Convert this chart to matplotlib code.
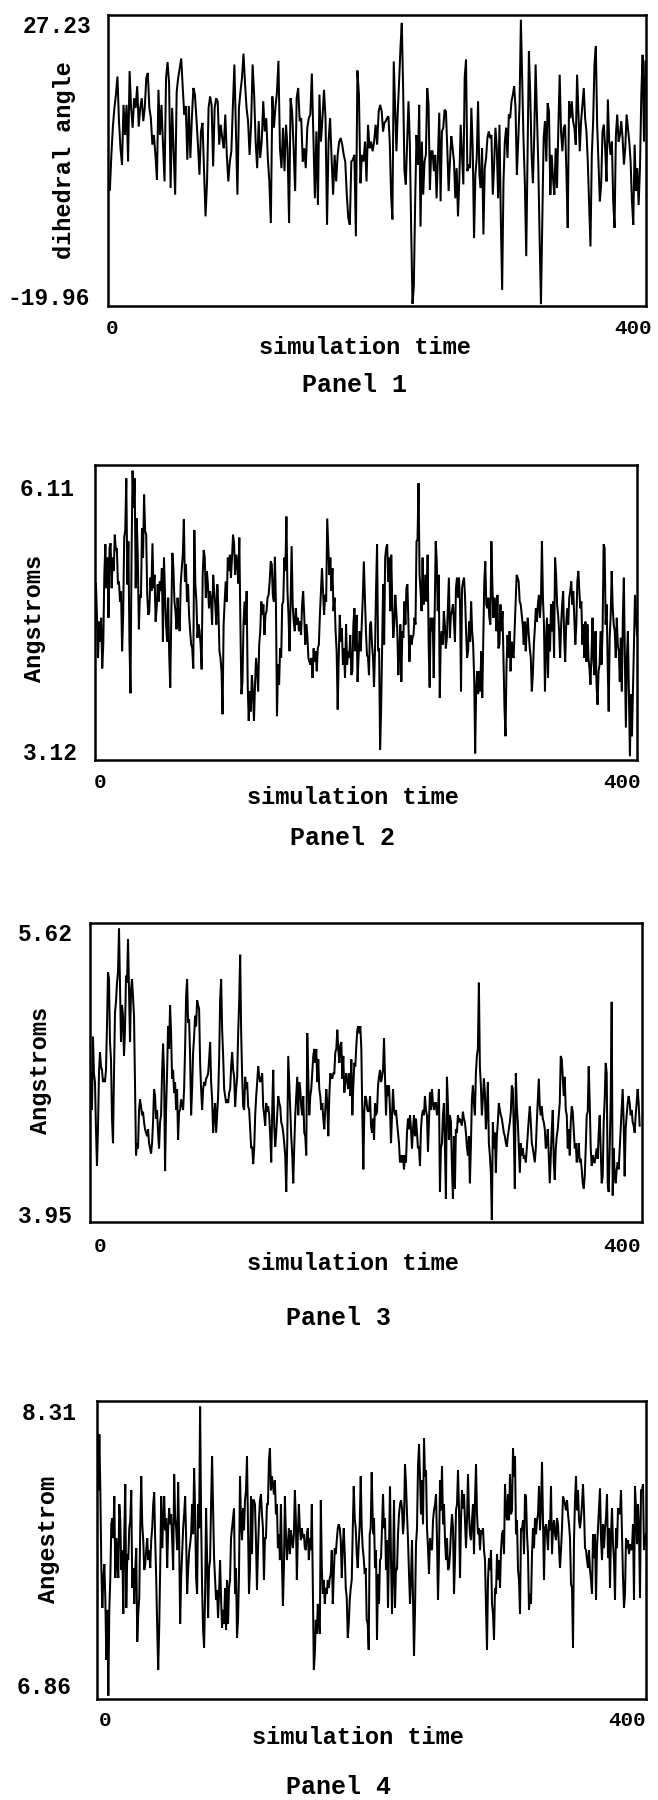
import numpy as np
import matplotlib
matplotlib.use("Agg")
import matplotlib.pyplot as plt

# ---------------- data ----------------
# Panel 1: dihedral angle
p1_first_span = (0.25, 203.5)
p1_first = [-0.4, -1.1, 4.8, 9.5, 12.6, 14.8, 17.8, 10.4, 5.9, 3.2, 13.1, 8.1, 13.1, 3.7, 18.7, 12.6, 9.3, 14.2, 12.6, 16.2,
            9.5, 12.6, 14.2, 10.4, 12.6, 17.6, 18.4, 12.6, 10.9, 6.5, 8.1, 4.8, 0.7, 15.6, 8.1, 13.1, 6.5, 0.4, 17.6, 20.2,
            16.7, -0.7, 12.6, 5.4, -1.8, 15.3, 17.6, 19.2, 20.8, 15.9, 11.5, 12.9, 4.0, 12.9, 4.3, 10.9, 15.9, 14.8, 10.9, 6.5,
            1.5, 8.7, 10.1, 2.6, -5.4, 0.4, 12.6, 14.5, 13.1, 2.9, 12.6, 14.2, 13.7, 6.5, 9.8, 7.6, 5.9, 11.5, 4.8, 0.4,
            3.7, 5.4, 12.9, 19.8, 9.3, -1.8, 12.6, 15.3, 17.6, 21.6, 16.7, 12.6, 10.4, 4.8, 9.8, 19.8, 14.8, 7.0, 2.6, 10.4,
            4.3, 7.0, 13.7, 8.7, 10.9, 4.3, 0.4, -6.5, 14.5, 9.3, 12.6, 15.1, 20.4, 5.9, 2.6, 9.3, 2.1, 9.8, 5.9, -6.5,
            14.2, 12.0, 5.9, -1.2, 14.2, 15.9, 10.4, 10.9, 3.7, 5.9, 2.6, 9.3, 10.9, 11.5, 18.3, 8.1, -2.4, 8.7, -3.5, 14.8,
            7.0, 10.9, 15.6, 10.9, -6.8, 7.0, 10.9, 4.3, -1.8, 4.8, 0.4, 4.8, 7.0, 7.6, 6.5, 4.8, 3.7, -1.8, -5.7, -6.8,
            3.7, 4.0, 4.8, -8.7, 18.8, 14.8, 0.1, 4.8, 3.7, 7.0, 0.4, 9.8, 5.9, 7.0, 5.4, 7.0, 9.8, 6.5, 12.0, 13.1, 12.0]
p1_second_span = (204.5, 399.5)
p1_second = [8.7, 10.1, 10.4, 10.9, 11.2, 7.0, -1.8, -5.9, 20.3, 13.1, 5.4, 12.0, 17.0, 22.5, 26.7, 15.9, 2.1, -0.1, 7.0, 13.7,
             7.0, -7.3, -19.9, -17.0, -2.9, 8.1, 3.2, 13.1, -7.1, 7.0, -1.8, 3.7, 4.8, 15.9, 13.1, -1.0, 5.4, 5.4, 2.1, 4.8,
             -2.4, 4.3, 11.8, -2.9, 8.7, 9.3, 12.3, 12.0, 5.9, -1.2, 3.7, 7.9, 5.9, 3.7, -2.4, 2.6, -5.4, 0.7, 9.8, 4.8,
             -0.1, 17.6, 20.6, 2.1, 3.2, 2.6, 12.6, 5.9, -9.0, 1.5, 4.3, 13.7, 1.5, -0.7, 5.9, -8.4, 2.6, 4.3, 7.6, 8.7,
             7.6, 8.1, -1.8, 3.2, 9.3, 5.9, -2.4, 9.8, -5.7, -17.6, 0.4, 7.0, 9.3, 4.3, 11.5, 10.9, 13.7, 14.8, 16.2, 12.6,
             1.5, 7.0, 13.1, 27.23, 17.0, 7.0, -0.1, -12.0, 5.4, 22.0, 14.8, 4.8, 0.1, 8.1, 19.8, 11.5, 3.2, -9.0, -19.96, -6.2,
             7.6, 10.4, 3.7, 13.4, 12.0, -1.8, 4.8, 0.9, -1.8, 5.9, -0.7, 9.3, 18.1, 8.7, 5.4, 9.3, 9.8, 2.1, -7.3, 13.7,
             10.9, 13.7, 10.4, 9.3, 6.5, 18.1, 11.5, 5.4, 10.4, 13.1, 15.9, 10.9, 8.7, 3.7, -3.5, -10.4, 4.8, 10.4, 19.8, 22.8,
             9.8, 3.7, -2.9, -0.1, 8.7, 9.8, 5.9, 0.4, 14.0, 7.0, 4.8, 7.0, -2.9, -7.3, 8.1, 11.5, 7.0, 8.1, 10.4, 7.6,
             3.2, 5.9, 11.5, 9.3, 7.0, 3.7, -2.9, -6.8, 6.5, -1.2, 2.6, -3.5, 2.6, 14.8, 21.4, 7.0, 20.3]

# Panel 2: Angstroms
p2_first_span = (0.7, 201.5)
p2_first = [4.93, 4.57, 4.15, 4.53, 4.32, 4.57, 4.04, 4.29, 5.02, 5.34, 4.88, 5.20, 4.57, 5.30, 5.35, 4.88, 5.20, 5.06, 5.44, 5.27,
            5.30, 4.92, 4.95, 4.74, 4.85, 4.22, 4.60, 5.41, 5.49, 6.03, 4.92, 5.37, 4.32, 3.78, 5.20, 6.11, 5.72, 6.03, 4.88, 5.61,
            5.20, 4.45, 4.81, 4.78, 5.51, 5.20, 5.86, 5.48, 5.44, 4.81, 4.60, 4.64, 4.99, 4.85, 5.35, 4.88, 5.02, 4.53, 4.67, 4.92,
            4.74, 4.95, 4.85, 5.09, 4.32, 5.20, 4.81, 4.50, 4.32, 4.78, 4.18, 3.84, 4.60, 5.25, 5.09, 4.74, 4.64, 4.45, 4.78, 4.57,
            4.43, 4.92, 5.09, 5.23, 5.60, 4.95, 5.13, 4.74, 4.92, 4.60, 4.43, 4.29, 4.25, 4.04, 5.49, 4.92, 4.74, 4.36, 4.50, 4.43,
            4.29, 4.03, 5.02, 5.28, 5.20, 4.78, 5.06, 4.92, 4.67, 4.85, 4.74, 4.50, 5.02, 4.85, 4.71, 4.50, 4.92, 4.67, 4.22, 4.15,
            4.01, 3.56, 4.50, 4.74, 4.95, 4.74, 5.20, 5.06, 5.23, 4.99, 5.20, 5.44, 5.35, 5.02, 5.23, 5.16, 4.93, 5.41, 4.53, 3.77,
            3.90, 4.50, 4.74, 4.50, 4.85, 3.87, 3.49, 3.80, 3.59, 3.97, 3.80, 3.49, 3.87, 4.15, 4.01, 3.80, 4.29, 4.43, 4.74, 4.60,
            4.71, 4.39, 4.60, 4.64, 4.78, 4.81, 4.95, 5.16, 5.13, 4.81, 4.74, 5.21, 4.71, 3.54, 4.08, 3.87, 4.25, 4.15, 4.71, 4.74,
            5.20, 5.06, 5.63, 4.85, 4.60, 4.22, 4.74, 5.32, 4.71, 4.53, 4.43, 4.67, 4.50, 4.57, 4.43, 4.53, 4.39, 4.71, 4.85, 4.60,
            4.29, 4.50, 4.39, 4.15, 4.11, 4.08, 4.15, 3.94, 4.25, 4.11, 4.22, 4.01, 4.25, 4.29, 4.60, 4.85, 5.09, 4.85, 4.60, 4.81,
            4.74, 5.61, 5.32, 5.02, 5.20, 4.85, 5.09, 4.64, 4.78, 4.43, 4.22, 3.61, 4.15, 4.60, 4.32, 4.46, 4.08, 4.25, 3.94, 4.50,
            4.08, 4.22, 4.15, 4.39, 3.97, 4.01, 4.50, 4.67, 4.22, 4.60, 3.90, 4.18, 4.43, 4.22, 4.50, 4.78, 5.16, 4.78, 4.43, 4.18,
            4.15]
p2_second_span = (202.2, 400.0)
p2_second = [3.97, 4.50, 4.53, 4.29, 4.15, 3.85, 4.25, 4.88, 5.34, 4.22, 4.25, 3.19, 3.61, 4.29, 4.92, 4.29, 5.20, 5.30, 5.34, 4.95,
             5.20, 4.64, 5.23, 4.74, 4.36, 4.50, 4.81, 4.64, 4.43, 3.97, 4.22, 4.50, 3.90, 4.43, 4.36, 4.74, 4.50, 4.88, 4.92, 4.53,
             4.11, 4.39, 4.29, 4.36, 4.39, 4.57, 4.50, 5.37, 5.39, 5.98, 5.02, 4.85, 4.64, 5.20, 4.71, 4.78, 5.02, 4.74, 5.23, 4.29,
             3.84, 4.57, 4.43, 4.57, 3.94, 4.67, 5.37, 5.16, 4.64, 5.02, 3.73, 4.36, 4.43, 4.29, 4.64, 4.50, 4.25, 4.36, 4.67, 4.99,
             4.36, 4.60, 4.64, 4.71, 4.53, 4.32, 4.88, 4.99, 4.78, 4.99, 4.71, 3.80, 4.88, 4.95, 4.99, 4.78, 4.43, 4.15, 4.22, 4.53,
             4.32, 4.74, 4.43, 4.29, 3.94, 3.15, 3.84, 4.01, 3.77, 4.01, 3.80, 4.22, 3.73, 4.36, 4.95, 5.16, 4.71, 4.67, 4.78, 4.57,
             4.50, 5.37, 4.92, 4.57, 4.78, 4.67, 4.43, 4.81, 4.25, 4.29, 4.71, 4.43, 4.64, 4.15, 3.62, 3.33, 4.08, 4.39, 4.15, 4.43,
             4.01, 4.32, 4.18, 4.15, 4.43, 4.71, 5.02, 4.99, 4.95, 4.74, 4.71, 4.60, 4.50, 4.29, 4.53, 4.22, 4.46, 4.57, 4.39, 4.25,
             4.15, 3.80, 3.97, 4.29, 4.46, 4.67, 4.53, 4.71, 4.81, 4.57, 4.74, 5.37, 4.78, 4.50, 3.80, 4.32, 4.57, 3.94, 4.50, 4.22,
             4.71, 4.43, 4.74, 4.15, 5.20, 5.02, 4.71, 4.60, 4.43, 4.15, 4.50, 4.71, 4.85, 4.36, 4.11, 4.50, 4.67, 4.50, 4.78, 4.85,
             4.95, 4.71, 4.85, 4.57, 4.29, 4.50, 4.95, 5.06, 4.85, 4.67, 4.74, 4.29, 4.50, 4.15, 4.53, 4.11, 4.50, 4.15, 4.04, 3.87,
             4.18, 4.57, 4.11, 3.97, 4.43, 3.87, 3.66, 4.01, 4.08, 4.43, 4.08, 4.46, 5.34, 5.30, 4.50, 4.71, 4.08, 3.59, 4.36, 4.60,
             5.06, 4.67, 4.50, 4.43, 4.15, 4.57, 4.29, 4.22, 3.90, 4.36, 3.80, 4.57, 4.99, 4.15, 3.42, 4.15, 4.43, 3.80, 3.12, 3.77,
             3.33, 3.80, 4.29, 4.81, 4.60, 4.39]

# Panel 3: Angstroms
p3_first_span = (0.7, 201.7)
p3_first = [4.79, 4.58, 5.00, 4.79, 4.74, 4.47, 4.26, 4.47, 4.79, 4.91, 4.83, 4.81, 4.74, 4.76, 4.74, 4.81, 5.06, 5.37, 5.33, 4.97,
            4.87, 4.53, 4.39, 4.79, 5.14, 5.20, 5.31, 5.37, 5.62, 5.31, 4.97, 5.18, 5.12, 4.89, 5.04, 5.35, 5.31, 5.56, 5.25, 4.97,
            5.27, 5.33, 5.23, 5.12, 4.74, 4.32, 4.39, 4.36, 4.58, 4.64, 4.60, 4.55, 4.57, 4.51, 4.47, 4.45, 4.43, 4.47, 4.39, 4.36,
            4.33, 4.39, 4.51, 4.70, 4.66, 4.53, 4.58, 4.45, 4.36, 4.51, 4.55, 4.79, 4.96, 4.79, 4.23, 4.58, 4.79, 5.06, 4.93, 5.18,
            5.02, 4.76, 4.81, 4.68, 4.74, 4.58, 4.70, 4.41, 4.57, 4.58, 4.64, 4.62, 4.58, 4.70, 4.93, 5.23, 5.33, 5.08, 5.10, 4.89,
            4.55, 4.70, 4.91, 5.00, 5.12, 5.06, 5.21, 5.18, 5.16, 4.85, 4.70, 4.58, 4.70, 4.74, 4.72, 4.76, 4.77, 4.79, 4.87, 4.97,
            4.74, 4.64, 4.45, 4.55, 4.62, 4.45, 4.55, 4.66, 4.87, 5.21, 5.33, 5.04, 4.89, 4.70, 4.66, 4.62, 4.64, 4.62, 4.68, 4.70,
            4.83, 4.91, 4.81, 4.77, 4.60, 4.70, 4.77, 5.02, 5.20, 5.47, 5.02, 4.77, 4.60, 4.58, 4.77, 4.70, 4.74, 4.60, 4.58, 4.47,
            4.36, 4.37, 4.27, 4.36, 4.55, 4.66, 4.74, 4.83, 4.77, 4.74, 4.76, 4.79, 4.60, 4.55, 4.49, 4.62, 4.57, 4.60, 4.55, 4.43,
            4.28, 4.58, 4.81, 4.49, 4.37, 4.45, 4.55, 4.66, 4.62, 4.60, 4.51, 4.49, 4.45, 4.39, 4.32, 4.11, 4.39, 4.89, 4.74, 4.58,
            4.43, 4.32, 4.16, 4.37, 4.55, 4.66, 4.77, 4.55, 4.74, 4.70, 4.60, 4.55, 4.66, 4.45, 4.43, 4.32, 5.02, 4.77, 4.55, 4.66,
            4.70, 4.79, 4.89, 4.93, 4.85, 4.93, 4.74, 4.87, 4.70, 4.66, 4.58, 4.62, 4.53, 4.47, 4.58, 4.70, 4.62, 4.43, 4.66, 4.79,
            4.77, 4.76, 4.79, 4.79, 4.91, 4.93, 5.04, 4.93, 4.85, 4.95, 4.97, 4.76, 4.89, 4.68, 4.74, 4.79, 4.74, 4.70, 4.79, 4.66,
            4.87, 4.55, 4.72, 4.85, 4.83, 4.95, 5.04, 5.06, 5.02, 5.06, 4.93, 4.55, 4.24, 4.58, 4.66, 4.64, 4.58, 4.57]
p3_second_span = (202.2, 398.3)
p3_second = [4.58, 4.66, 4.49, 4.45, 4.53, 4.41, 4.62, 4.55, 4.57, 4.72, 4.77, 4.81, 4.74, 4.77, 4.81, 4.99, 4.76, 4.55, 4.72, 4.66,
             4.72, 4.58, 4.39, 4.55, 4.70, 4.58, 4.55, 4.58, 4.51, 4.45, 4.39, 4.28, 4.32, 4.28, 4.32, 4.24, 4.32, 4.28, 4.45, 4.53,
             4.47, 4.55, 4.47, 4.36, 4.47, 4.55, 4.43, 4.53, 4.45, 4.36, 4.37, 4.26, 4.47, 4.55, 4.58, 4.55, 4.66, 4.58, 4.55, 4.34,
             4.51, 4.68, 4.58, 4.70, 4.62, 4.58, 4.62, 4.62, 4.55, 4.58, 4.70, 4.11, 4.36, 4.39, 4.55, 4.62, 4.36, 4.07, 4.77, 4.62,
             4.41, 4.55, 4.51, 4.26, 4.07, 4.43, 4.13, 4.47, 4.45, 4.55, 4.51, 4.53, 4.51, 4.49, 4.57, 4.53, 4.51, 4.45, 4.37, 4.32,
             4.43, 4.16, 4.37, 4.64, 4.72, 4.62, 4.55, 4.79, 4.89, 4.93, 5.31, 4.83, 4.72, 4.55, 4.64, 4.76, 4.68, 4.47, 4.58, 4.74,
             4.39, 4.32, 4.22, 3.95, 4.51, 4.36, 4.45, 4.22, 4.43, 4.51, 4.62, 4.58, 4.55, 4.53, 4.49, 4.45, 4.43, 4.39, 4.37, 4.43,
             4.47, 4.51, 4.57, 4.72, 4.70, 4.45, 4.13, 4.79, 4.60, 4.51, 4.36, 4.22, 4.39, 4.32, 4.36, 4.30, 4.32, 4.28, 4.36, 4.45,
             4.53, 4.60, 4.51, 4.39, 4.36, 4.32, 4.28, 4.36, 4.51, 4.64, 4.76, 4.60, 4.55, 4.60, 4.53, 4.51, 4.47, 4.36, 4.39, 4.47,
             4.32, 4.16, 4.32, 4.47, 4.58, 4.28, 4.18, 4.36, 4.43, 4.47, 4.55, 4.62, 4.89, 4.87, 4.77, 4.66, 4.77, 4.58, 4.55, 4.36,
             4.47, 4.32, 4.51, 4.60, 4.57, 4.47, 4.36, 4.39, 4.28, 4.32, 4.39, 4.28, 4.30, 4.24, 4.16, 4.13, 4.20, 4.36, 4.55, 4.57,
             4.83, 4.62, 4.36, 4.26, 4.32, 4.28, 4.28, 4.32, 4.36, 4.30, 4.45, 4.55, 4.36, 4.16, 4.20, 4.51, 4.64, 4.85, 4.79, 4.16,
             4.11, 4.36, 4.64, 5.20, 4.09, 4.36, 4.20, 4.16, 4.24, 4.28, 4.24, 4.36, 4.47, 4.58, 4.70, 4.51, 4.20, 4.47, 4.55, 4.62,
             4.66, 4.62, 4.55, 4.58, 4.51, 4.49, 4.45, 4.55, 4.62, 4.70, 4.62, 4.49]

# Panel 4: Angestrom
p4_first_span = (0.25, 201.6)
p4_first = [8.17, 7.89, 8.17, 7.89, 7.50, 7.30, 7.45, 7.52, 7.35, 7.04, 7.29, 6.86, 7.29, 7.45, 7.72, 7.75, 7.65, 7.86, 7.45, 7.65,
            7.54, 7.45, 7.82, 7.74, 7.49, 7.59, 7.27, 7.67, 7.92, 7.30, 7.57, 7.54, 7.70, 7.74, 7.89, 7.40, 7.50, 7.32, 7.49, 7.60,
            7.13, 7.27, 7.35, 7.70, 7.96, 7.72, 7.64, 7.49, 7.52, 7.59, 7.65, 7.54, 7.59, 7.50, 7.64, 7.70, 7.82, 7.88, 7.64, 7.45,
            7.20, 6.99, 7.20, 7.50, 7.86, 7.60, 7.74, 7.86, 7.69, 7.75, 7.50, 7.70, 7.80, 7.72, 7.77, 7.64, 7.49, 7.97, 7.75, 7.70,
            7.59, 7.93, 7.65, 7.22, 7.45, 7.57, 7.70, 7.77, 7.86, 7.65, 7.37, 7.49, 7.58, 7.62, 7.67, 7.82, 7.67, 8.00, 7.79, 7.45,
            7.37, 7.82, 7.70, 8.31, 7.75, 7.40, 7.19, 7.10, 7.37, 7.80, 7.55, 7.25, 7.50, 7.54, 7.82, 8.06, 7.79, 7.55, 7.44, 7.34,
            7.39, 7.25, 7.37, 7.54, 7.35, 7.20, 7.29, 7.22, 7.40, 7.19, 7.44, 7.22, 7.40, 7.44, 7.65, 7.70, 7.75, 7.80, 7.37, 7.50,
            7.15, 7.24, 7.47, 7.96, 7.74, 7.64, 7.80, 7.69, 7.84, 7.89, 8.06, 7.70, 7.37, 7.50, 7.86, 7.57, 7.84, 7.84, 7.82, 7.64,
            7.39, 7.59, 7.74, 7.84, 7.87, 7.77, 7.70, 7.44, 7.65, 7.65, 7.82, 7.82, 8.04, 8.10, 7.89, 7.96, 7.92, 7.87, 7.94, 7.77,
            7.82, 7.60, 7.67, 7.54, 7.82, 7.54, 7.31, 7.50, 7.86, 7.67, 7.54, 7.62, 7.70, 7.57, 7.69, 7.64, 7.60, 7.67, 7.89, 7.74,
            7.44, 7.67, 7.82, 7.70, 7.64, 7.70, 7.65, 7.67, 7.60, 7.59, 7.67, 7.70, 7.54, 7.65, 7.59, 7.82, 7.40, 6.99, 7.07, 7.24,
            7.17, 7.32, 7.22, 7.17, 7.84, 7.50, 7.37, 7.44, 7.32, 7.40, 7.37, 7.44, 7.40, 7.45, 7.47, 7.59, 7.32, 7.47, 7.60, 7.57,
            7.64, 7.70, 7.72, 7.70, 7.64, 7.45, 7.60, 7.70, 7.57, 7.40, 7.35, 7.15, 7.22, 7.34, 7.40, 7.44, 7.69, 7.91, 7.75, 7.70,
            7.57, 7.50, 7.62, 7.72, 7.96, 7.70, 7.60, 7.55, 7.47, 7.50, 7.24, 7.22, 7.09, 7.67, 7.70, 7.98, 7.75, 7.67]
p4_second_span = (201.1, 400.0)
p4_second = [7.69, 7.75, 7.50, 7.59, 7.14, 7.47, 7.32, 7.54, 7.55, 7.70, 7.87, 7.70, 7.75, 7.49, 7.64, 7.30, 7.59, 7.91, 7.54, 7.27,
             7.49, 7.84, 7.30, 7.50, 7.49, 7.67, 7.77, 7.82, 7.84, 7.80, 7.67, 7.74, 8.02, 7.92, 7.77, 7.64, 7.47, 7.32, 7.45, 7.64,
             7.35, 7.06, 7.29, 7.62, 7.70, 8.01, 8.12, 7.96, 7.77, 7.94, 7.72, 8.15, 7.96, 7.99, 7.70, 7.60, 7.47, 7.65, 7.60, 7.59,
             7.74, 7.79, 7.82, 7.87, 7.64, 7.34, 7.57, 7.94, 7.79, 8.01, 7.72, 7.82, 7.64, 7.54, 7.65, 7.49, 7.50, 7.57, 7.69, 7.77,
             7.70, 7.37, 7.54, 7.79, 7.82, 7.99, 7.80, 7.45, 7.74, 7.89, 7.80, 7.87, 7.74, 7.60, 7.74, 7.97, 7.77, 7.67, 7.64, 7.74,
             7.82, 7.57, 7.84, 8.02, 7.77, 7.67, 7.70, 7.59, 7.69, 7.67, 7.70, 7.59, 7.54, 7.30, 7.09, 7.44, 7.55, 7.49, 7.59, 7.32,
             7.27, 7.14, 7.40, 7.37, 7.57, 7.44, 7.54, 7.40, 7.59, 7.67, 7.69, 7.57, 7.92, 7.79, 7.74, 7.87, 7.74, 7.97, 7.77, 7.79,
             8.10, 7.96, 8.06, 7.67, 7.74, 7.49, 7.44, 7.27, 7.70, 7.69, 7.74, 7.57, 7.87, 7.86, 7.67, 7.57, 7.29, 7.37, 7.32, 7.57,
             7.70, 7.60, 7.75, 7.67, 7.74, 7.77, 7.91, 7.69, 7.80, 8.03, 7.74, 7.44, 7.70, 7.72, 7.67, 7.59, 7.74, 7.69, 7.91, 7.57,
             7.70, 7.74, 7.67, 7.64, 7.75, 7.72, 7.60, 7.50, 7.59, 7.70, 7.86, 7.84, 7.82, 7.79, 7.84, 7.77, 7.72, 7.65, 7.42, 7.40,
             7.10, 7.64, 7.84, 7.96, 7.79, 7.89, 7.74, 7.70, 7.75, 7.82, 7.92, 7.79, 7.60, 7.59, 7.54, 7.50, 7.59, 7.49, 7.44, 7.37,
             7.67, 7.55, 7.67, 7.34, 7.60, 7.70, 7.79, 7.90, 7.65, 7.54, 7.72, 7.60, 7.70, 7.75, 7.87, 7.55, 7.70, 7.40, 7.67, 7.80,
             7.62, 7.54, 7.34, 7.70, 7.60, 7.80, 7.79, 7.77, 7.89, 7.67, 7.45, 7.30, 7.37, 7.65, 7.60, 7.64, 7.57, 7.62, 7.59, 7.60,
             7.72, 7.34, 7.91, 7.80, 7.62, 7.82, 7.69, 7.35, 7.89, 7.89, 7.92, 7.59, 7.64, 7.67]

panel_titles = ["Panel 1", "Panel 2", "Panel 3", "Panel 4"]
y_labels = ["dihedral angle", "Angstroms", "Angstroms", "Angestrom"]
y_tick_values = [(27.23, -19.96), (6.11, 3.12), (5.62, 3.95), (8.31, 6.86)]
y_tick_texts = [("27.23", "-19.96"), ("6.11", "3.12"), ("5.62", "3.95"), ("8.31", "6.86")]
x_label = "simulation time"
x_tick_values = [0, 400]
x_tick_texts = ["0", "400"]

series = [
    (p1_first, p1_first_span, p1_second, p1_second_span),
    (p2_first, p2_first_span, p2_second, p2_second_span),
    (p3_first, p3_first_span, p3_second, p3_second_span),
    (p4_first, p4_first_span, p4_second, p4_second_span),
]

# ---------------- layout / style ----------------
W, H = 658, 1800
FONT = ["Liberation Mono", "DejaVu Sans Mono"]
plt.rcParams["font.family"] = FONT

# axes box in pixels: left, top, right, bottom
boxes = [(108, 15, 646, 306), (95, 465, 637, 760), (90, 923, 642, 1222), (97, 1401, 646, 1699)]
ylims = [(-20.27, 28.01), (3.081, 6.17), (3.938, 5.652), (6.843, 8.338)]
# tick-label pixel offsets (dx, dy) for top label and bottom label
ytick_offsets = [((-17, -7), (-18, 6)), ((-20, -19), (-17, 3)), ((-17, -6), (-17, 3)), ((-20, -7), (-25, 8))]
xtick_offsets = [((4, -22), (6, -22)), ((5, -22), (4, -22)), ((10, -24), (-1, -24)), ((8, -21), (0, -21))]
xlabel_pos = [(365, 347), (353, 798), (353, 1263), (358, 1737)]
title_pos = [(355, 385), (343, 838), (338, 1318), (338, 1787)]
ylabel_pos = [(65, 160), (35, 618), (41, 1070), (48, 1539)]

fig = plt.figure(figsize=(W / 100, H / 100), dpi=100)

for i in range(4):
    l, t, r, b = boxes[i]
    ax = fig.add_axes([l / W, 1 - b / H, (r - l) / W, (b - t) / H])
    first, span1, second, span2 = series[i]
    tt = np.concatenate([np.linspace(span1[0], span1[1], len(first)),
                         np.linspace(span2[0], span2[1], len(second))])
    vv = np.concatenate([np.asarray(first, float), np.asarray(second, float)])
    ax.plot(tt, vv, color="black", lw=1.45, solid_joinstyle="miter")
    ax.set_xlim(0, 400)
    ax.set_ylim(*ylims[i])
    ax.set_xticks([])
    ax.set_yticks([])
    for s in ax.spines.values():
        s.set_linewidth(1.8)
        s.set_color("black")

    # y tick labels
    for k in range(2):
        dx, dy = ytick_offsets[i][k]
        ax.annotate(y_tick_texts[i][k], xy=(0, y_tick_values[i][k]),
                    xycoords=("axes fraction", "data"), xytext=(dx, dy),
                    textcoords="offset pixels", ha="right", va="center",
                    fontsize=16.5, fontweight="bold", family=FONT)
    # x tick labels
    for k in range(2):
        dx, dy = xtick_offsets[i][k]
        ax.annotate(x_tick_texts[k], xy=(x_tick_values[k], 0),
                    xycoords=("data", "axes fraction"), xytext=(dx, dy),
                    textcoords="offset pixels", ha="center" if k == 0 else "right",
                    va="center", fontsize=15, fontweight="bold", family=FONT)

    fig.text(xlabel_pos[i][0] / W, 1 - xlabel_pos[i][1] / H, x_label,
             ha="center", va="center", fontsize=17, fontweight="bold", family=FONT)
    fig.text(title_pos[i][0] / W, 1 - title_pos[i][1] / H, panel_titles[i],
             ha="center", va="center", fontsize=18, fontweight="bold", family=FONT)
    fig.text(ylabel_pos[i][0] / W, 1 - ylabel_pos[i][1] / H, y_labels[i],
             ha="center", va="center", rotation=90, fontsize=17, fontweight="bold", family=FONT)

fig.savefig("out.png", dpi=100)
